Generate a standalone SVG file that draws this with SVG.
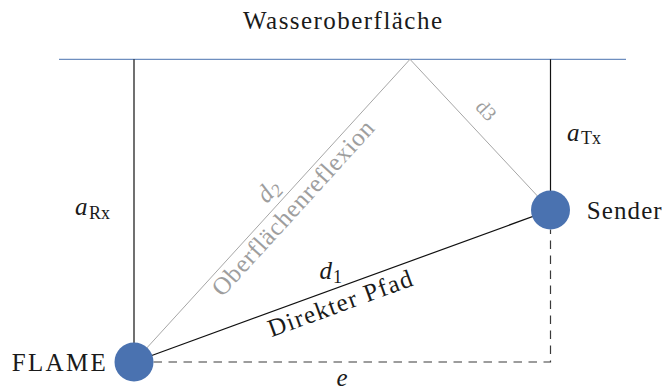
<svg xmlns="http://www.w3.org/2000/svg" width="666" height="392" viewBox="0 0 666 392" font-family="'Liberation Serif', 'DejaVu Serif', serif">
<style>
text{fill:#1a1a1a}
.lbl{font-size:25px}
.it{font-style:italic}
.sub{font-size:18px}
.gray{fill:#9e9e9e}
.solid{stroke:#111;stroke-width:1.2;fill:none}
.refl{stroke:#a6a6a6;stroke-width:1;fill:none}
.dash{stroke:#3a3a3a;stroke-width:1.2;fill:none;stroke-dasharray:8.5 6.5}
.node{fill:#4a72b0}
</style>
<rect width="666" height="392" fill="#fff"/>
<g id="surface">
<line x1="59" y1="59.3" x2="626" y2="59.3" stroke="#4a72b0" stroke-width="1"/>
<text class="lbl" x="342.5" y="28.5" text-anchor="middle" textLength="199" lengthAdjust="spacing">Wasseroberfläche</text>
</g>
<g id="connectors">
<line class="solid" x1="134" y1="59.3" x2="134" y2="362"/>
<line class="solid" x1="550.5" y1="59.3" x2="550.5" y2="210"/>
<line class="refl" x1="134" y1="362" x2="410" y2="59.3"/>
<line class="refl" x1="410" y1="59.3" x2="550.5" y2="210"/>
<line class="solid" x1="134" y1="362" x2="550.5" y2="210"/>
<path class="dash" d="M153.5 362 H550.5 V229.5"/>
</g>
<g id="labels">
<text class="lbl it" x="75" y="215">a</text>
<text class="sub" x="89" y="218.5">Rx</text>
<text class="lbl it" x="567" y="140.7">a</text>
<text class="sub" x="581" y="144">Tx</text>
<text class="lbl it" x="319.5" y="279">d</text>
<text class="sub" x="333" y="283">1</text>
<text class="lbl it" x="342" y="386" text-anchor="middle">e</text>
<g transform="translate(282.7,198.7) rotate(-47.67)">
<text class="lbl it gray" x="-4" y="-8" text-anchor="middle">d<tspan class="sub" dy="4">2</tspan></text>
<text class="lbl gray" x="0" y="22" text-anchor="middle" textLength="228" lengthAdjust="spacing">Oberflächenreflexion</text>
</g>
<g transform="translate(471.1,124.5) rotate(47.06)">
<text class="gray" font-size="20" x="0" y="-14" text-anchor="middle">d3</text>
</g>
<g transform="translate(334.6,288.7) rotate(-20.05)">
<text class="lbl" x="0" y="24" text-anchor="middle" textLength="152" lengthAdjust="spacing">Direkter Pfad</text>
</g>
</g>
<g id="flame">
<circle class="node" cx="134" cy="362" r="19.5"/>
<text class="lbl" x="11.7" y="370.7" textLength="94" lengthAdjust="spacing">FLAME</text>
</g>
<g id="sender">
<circle class="node" cx="550.5" cy="210" r="19.5"/>
<text class="lbl" x="586.7" y="219.3" textLength="75" lengthAdjust="spacing">Sender</text>
</g>
</svg>
